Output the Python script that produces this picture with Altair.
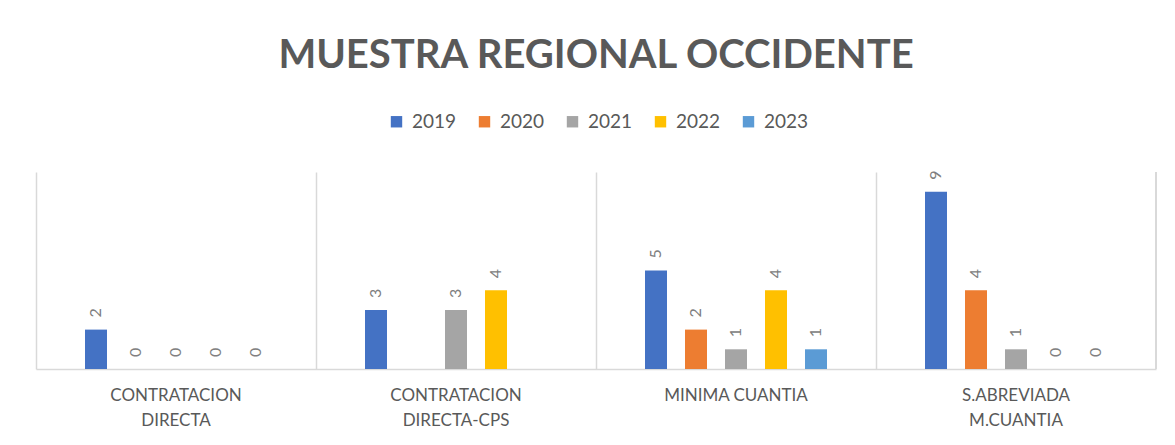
import altair as alt
import pandas as pd

categories = ["CONTRATACION DIRECTA", "CONTRATACION DIRECTA-CPS", "MINIMA CUANTIA", "S.ABREVIADA M.CUANTIA"]
label_lines = [["CONTRATACION", "DIRECTA"], ["CONTRATACION", "DIRECTA-CPS"], ["MINIMA CUANTIA"], ["S.ABREVIADA", "M.CUANTIA"]]
years = ["2019", "2020", "2021", "2022", "2023"]
colors = ["#4472C4", "#ED7D31", "#A5A5A5", "#FFC000", "#5B9BD5"]
v2019 = [2, 3, 5, 9]
v2020 = [0, None, 2, 4]
v2021 = [0, 3, 1, 1]
v2022 = [0, 4, 4, 0]
v2023 = [0, None, 1, 0]

series = [v2019, v2020, v2021, v2022, v2023]
rows = []
for y, vals in zip(years, series):
    for c, v in zip(categories, vals):
        rows.append({"categoria": c, "anio": y, "valor": v})
df = pd.DataFrame(rows)

label_expr = ""
for c, lines in zip(categories, label_lines):
    arr = "[" + ",".join("'" + l + "'" for l in lines) + "]"
    label_expr += f"datum.value == '{c}' ? {arr} : "
label_expr += "datum.value"

W, H = 1120, 197
FONT = "Lato"

x = alt.X("categoria:N", sort=categories, title=None,
          scale=alt.Scale(paddingInner=0, paddingOuter=0),
          axis=alt.Axis(labelExpr=label_expr, labelAngle=0, labelFont=FONT, labelFontSize=17,
                        labelColor="#595959", labelPadding=18, labelLineHeight=25,
                        ticks=False, domainColor="#d9d9d9", domainWidth=1.5,
                        grid=True, gridColor="#d9d9d9", gridWidth=1.5, bandPosition=0))
xoff = alt.XOffset("anio:N", sort=years,
                   scale=alt.Scale(domain=years, paddingInner=0, paddingOuter=1))
y = alt.Y("valor:Q", scale=alt.Scale(domain=[0, 10]), axis=None)

bars = alt.Chart(df).mark_bar(width=22).encode(
    x=x, xOffset=xoff, y=y,
    color=alt.Color("anio:N", sort=years, scale=alt.Scale(domain=years, range=colors),
                    legend=alt.Legend(title=None, orient="none", direction="horizontal",
                                      legendX=351, legendY=-60, columns=5,
                                      symbolType="square", symbolSize=130, symbolStrokeWidth=0,
                                      labelFont=FONT, labelFontSize=19, labelColor="#595959",
                                      columnPadding=18, labelOffset=6))
)

labels = alt.Chart(df).transform_filter("isValid(datum.valor)").mark_text(
    angle=270, align="left", baseline="middle", dx=12, font=FONT, fontSize=16, color="#808080"
).encode(x=x, xOffset=xoff, y=y, text=alt.Text("valor:Q"))

right_edge = alt.Chart(df).mark_rule(color="#d9d9d9", strokeWidth=1.5).encode(
    x=alt.value(W), y=alt.value(0), y2=alt.value(H)
)

chart = alt.layer(bars, labels, right_edge).properties(
    width=W, height=H,
    title=alt.TitleParams("MUESTRA REGIONAL OCCIDENTE", font=FONT, fontSize=40, fontWeight="bold",
                          color="#595959", anchor="middle", offset=36),
    autosize=alt.AutoSizeParams(type="none"),
    padding={"left": 28, "top": 164, "right": 11, "bottom": 68},
).configure_view(stroke=None)

chart.save("out.html", embed_options={"renderer": "svg", "actions": False})
